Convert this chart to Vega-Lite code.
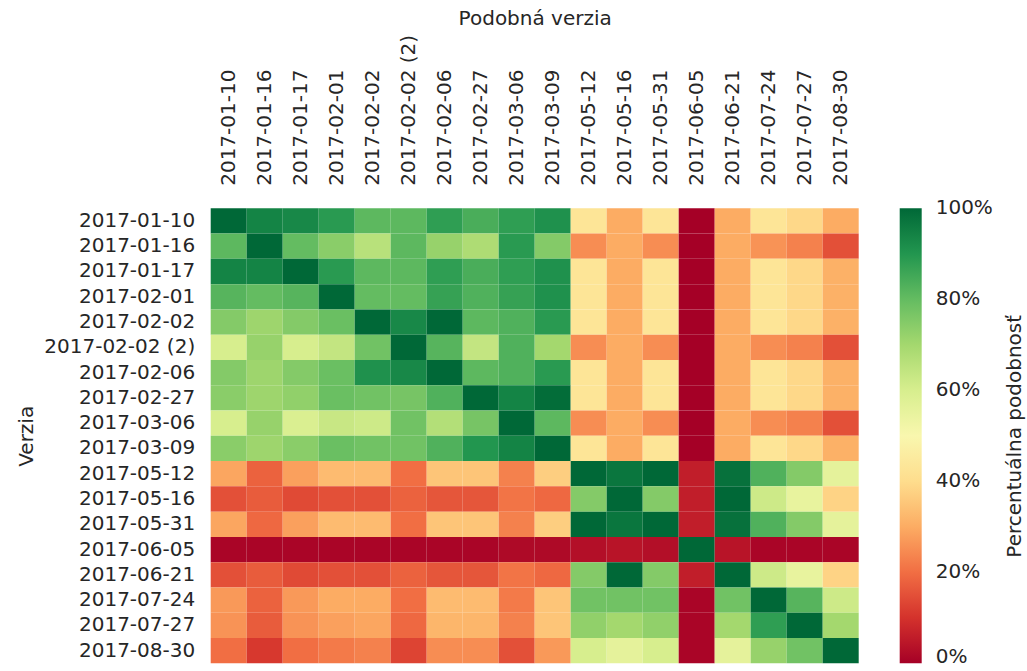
{
  "$schema": "https://vega.github.io/schema/vega-lite/v6.json",
  "width": 648,
  "height": 455,
  "autosize": "none",
  "padding": {"left": 210.7, "top": 208.3, "right": 168.3, "bottom": 7.7},
  "config": {
    "view": {"stroke": null},
    "font": "DejaVu Sans",
    "axis": {"labelFont": "DejaVu Sans", "titleFont": "DejaVu Sans", "labelColor": "#262626", "titleColor": "#262626", "titleFontWeight": "normal", "ticks": false, "domain": false, "grid": false},
    "legend": {"labelFont": "DejaVu Sans", "titleFont": "DejaVu Sans", "labelColor": "#262626", "titleColor": "#262626", "titleFontWeight": "normal"}
  },
  "datasets": {
    "cells": [
{"row":"2017-01-10","col":"2017-01-10","v":100},{"row":"2017-01-10","col":"2017-01-16","v":94},{"row":"2017-01-10","col":"2017-01-17","v":93},{"row":"2017-01-10","col":"2017-02-01","v":89},{"row":"2017-01-10","col":"2017-02-02","v":81},{"row":"2017-01-10","col":"2017-02-02 (2)","v":81},{"row":"2017-01-10","col":"2017-02-06","v":88},{"row":"2017-01-10","col":"2017-02-27","v":84},{"row":"2017-01-10","col":"2017-03-06","v":88},{"row":"2017-01-10","col":"2017-03-09","v":91},{"row":"2017-01-10","col":"2017-05-12","v":43},{"row":"2017-01-10","col":"2017-05-16","v":30},{"row":"2017-01-10","col":"2017-05-31","v":43},{"row":"2017-01-10","col":"2017-06-05","v":0},{"row":"2017-01-10","col":"2017-06-21","v":30},{"row":"2017-01-10","col":"2017-07-24","v":43},{"row":"2017-01-10","col":"2017-07-27","v":39},{"row":"2017-01-10","col":"2017-08-30","v":30},
{"row":"2017-01-16","col":"2017-01-10","v":81},{"row":"2017-01-16","col":"2017-01-16","v":100},{"row":"2017-01-16","col":"2017-01-17","v":80},{"row":"2017-01-16","col":"2017-02-01","v":74},{"row":"2017-01-16","col":"2017-02-02","v":66},{"row":"2017-01-16","col":"2017-02-02 (2)","v":81},{"row":"2017-01-16","col":"2017-02-06","v":72},{"row":"2017-01-16","col":"2017-02-27","v":68},{"row":"2017-01-16","col":"2017-03-06","v":89},{"row":"2017-01-16","col":"2017-03-09","v":75},{"row":"2017-01-16","col":"2017-05-12","v":25},{"row":"2017-01-16","col":"2017-05-16","v":30},{"row":"2017-01-16","col":"2017-05-31","v":25},{"row":"2017-01-16","col":"2017-06-05","v":0},{"row":"2017-01-16","col":"2017-06-21","v":30},{"row":"2017-01-16","col":"2017-07-24","v":26},{"row":"2017-01-16","col":"2017-07-27","v":23},{"row":"2017-01-16","col":"2017-08-30","v":15},
{"row":"2017-01-17","col":"2017-01-10","v":94},{"row":"2017-01-17","col":"2017-01-16","v":94},{"row":"2017-01-17","col":"2017-01-17","v":100},{"row":"2017-01-17","col":"2017-02-01","v":89},{"row":"2017-01-17","col":"2017-02-02","v":81},{"row":"2017-01-17","col":"2017-02-02 (2)","v":81},{"row":"2017-01-17","col":"2017-02-06","v":88},{"row":"2017-01-17","col":"2017-02-27","v":84},{"row":"2017-01-17","col":"2017-03-06","v":88},{"row":"2017-01-17","col":"2017-03-09","v":91},{"row":"2017-01-17","col":"2017-05-12","v":43},{"row":"2017-01-17","col":"2017-05-16","v":30},{"row":"2017-01-17","col":"2017-05-31","v":43},{"row":"2017-01-17","col":"2017-06-05","v":0},{"row":"2017-01-17","col":"2017-06-21","v":30},{"row":"2017-01-17","col":"2017-07-24","v":43},{"row":"2017-01-17","col":"2017-07-27","v":39},{"row":"2017-01-17","col":"2017-08-30","v":31},
{"row":"2017-02-01","col":"2017-01-10","v":82},{"row":"2017-02-01","col":"2017-01-16","v":80},{"row":"2017-02-01","col":"2017-01-17","v":82},{"row":"2017-02-01","col":"2017-02-01","v":100},{"row":"2017-02-01","col":"2017-02-02","v":80},{"row":"2017-02-01","col":"2017-02-02 (2)","v":80},{"row":"2017-02-01","col":"2017-02-06","v":87},{"row":"2017-02-01","col":"2017-02-27","v":83},{"row":"2017-02-01","col":"2017-03-06","v":87},{"row":"2017-02-01","col":"2017-03-09","v":91},{"row":"2017-02-01","col":"2017-05-12","v":43},{"row":"2017-02-01","col":"2017-05-16","v":30},{"row":"2017-02-01","col":"2017-05-31","v":43},{"row":"2017-02-01","col":"2017-06-05","v":0},{"row":"2017-02-01","col":"2017-06-21","v":30},{"row":"2017-02-01","col":"2017-07-24","v":43},{"row":"2017-02-01","col":"2017-07-27","v":39},{"row":"2017-02-01","col":"2017-08-30","v":31},
{"row":"2017-02-02","col":"2017-01-10","v":75},{"row":"2017-02-02","col":"2017-01-16","v":71},{"row":"2017-02-02","col":"2017-01-17","v":75},{"row":"2017-02-02","col":"2017-02-01","v":79},{"row":"2017-02-02","col":"2017-02-02","v":100},{"row":"2017-02-02","col":"2017-02-02 (2)","v":93},{"row":"2017-02-02","col":"2017-02-06","v":100},{"row":"2017-02-02","col":"2017-02-27","v":81},{"row":"2017-02-02","col":"2017-03-06","v":83},{"row":"2017-02-02","col":"2017-03-09","v":89},{"row":"2017-02-02","col":"2017-05-12","v":43},{"row":"2017-02-02","col":"2017-05-16","v":30},{"row":"2017-02-02","col":"2017-05-31","v":43},{"row":"2017-02-02","col":"2017-06-05","v":0},{"row":"2017-02-02","col":"2017-06-21","v":30},{"row":"2017-02-02","col":"2017-07-24","v":43},{"row":"2017-02-02","col":"2017-07-27","v":39},{"row":"2017-02-02","col":"2017-08-30","v":31},
{"row":"2017-02-02 (2)","col":"2017-01-10","v":60},{"row":"2017-02-02 (2)","col":"2017-01-16","v":72},{"row":"2017-02-02 (2)","col":"2017-01-17","v":60},{"row":"2017-02-02 (2)","col":"2017-02-01","v":64},{"row":"2017-02-02 (2)","col":"2017-02-02","v":78},{"row":"2017-02-02 (2)","col":"2017-02-02 (2)","v":100},{"row":"2017-02-02 (2)","col":"2017-02-06","v":82},{"row":"2017-02-02 (2)","col":"2017-02-27","v":64},{"row":"2017-02-02 (2)","col":"2017-03-06","v":83},{"row":"2017-02-02 (2)","col":"2017-03-09","v":70},{"row":"2017-02-02 (2)","col":"2017-05-12","v":25},{"row":"2017-02-02 (2)","col":"2017-05-16","v":30},{"row":"2017-02-02 (2)","col":"2017-05-31","v":25},{"row":"2017-02-02 (2)","col":"2017-06-05","v":0},{"row":"2017-02-02 (2)","col":"2017-06-21","v":30},{"row":"2017-02-02 (2)","col":"2017-07-24","v":25},{"row":"2017-02-02 (2)","col":"2017-07-27","v":23},{"row":"2017-02-02 (2)","col":"2017-08-30","v":15},
{"row":"2017-02-06","col":"2017-01-10","v":75},{"row":"2017-02-06","col":"2017-01-16","v":71},{"row":"2017-02-06","col":"2017-01-17","v":75},{"row":"2017-02-06","col":"2017-02-01","v":79},{"row":"2017-02-06","col":"2017-02-02","v":91},{"row":"2017-02-06","col":"2017-02-02 (2)","v":93},{"row":"2017-02-06","col":"2017-02-06","v":100},{"row":"2017-02-06","col":"2017-02-27","v":81},{"row":"2017-02-06","col":"2017-03-06","v":83},{"row":"2017-02-06","col":"2017-03-09","v":89},{"row":"2017-02-06","col":"2017-05-12","v":43},{"row":"2017-02-06","col":"2017-05-16","v":30},{"row":"2017-02-06","col":"2017-05-31","v":43},{"row":"2017-02-06","col":"2017-06-05","v":0},{"row":"2017-02-06","col":"2017-06-21","v":30},{"row":"2017-02-06","col":"2017-07-24","v":43},{"row":"2017-02-06","col":"2017-07-27","v":39},{"row":"2017-02-06","col":"2017-08-30","v":31},
{"row":"2017-02-27","col":"2017-01-10","v":74},{"row":"2017-02-27","col":"2017-01-16","v":71},{"row":"2017-02-27","col":"2017-01-17","v":73},{"row":"2017-02-27","col":"2017-02-01","v":79},{"row":"2017-02-27","col":"2017-02-02","v":78},{"row":"2017-02-27","col":"2017-02-02 (2)","v":77},{"row":"2017-02-27","col":"2017-02-06","v":83},{"row":"2017-02-27","col":"2017-02-27","v":100},{"row":"2017-02-27","col":"2017-03-06","v":94},{"row":"2017-02-27","col":"2017-03-09","v":99},{"row":"2017-02-27","col":"2017-05-12","v":43},{"row":"2017-02-27","col":"2017-05-16","v":30},{"row":"2017-02-27","col":"2017-05-31","v":43},{"row":"2017-02-27","col":"2017-06-05","v":0},{"row":"2017-02-27","col":"2017-06-21","v":30},{"row":"2017-02-27","col":"2017-07-24","v":43},{"row":"2017-02-27","col":"2017-07-27","v":39},{"row":"2017-02-27","col":"2017-08-30","v":31},
{"row":"2017-03-06","col":"2017-01-10","v":60},{"row":"2017-03-06","col":"2017-01-16","v":72},{"row":"2017-03-06","col":"2017-01-17","v":59},{"row":"2017-03-06","col":"2017-02-01","v":63},{"row":"2017-03-06","col":"2017-02-02","v":62},{"row":"2017-03-06","col":"2017-02-02 (2)","v":78},{"row":"2017-03-06","col":"2017-02-06","v":67},{"row":"2017-03-06","col":"2017-02-27","v":77},{"row":"2017-03-06","col":"2017-03-06","v":100},{"row":"2017-03-06","col":"2017-03-09","v":81},{"row":"2017-03-06","col":"2017-05-12","v":25},{"row":"2017-03-06","col":"2017-05-16","v":30},{"row":"2017-03-06","col":"2017-05-31","v":25},{"row":"2017-03-06","col":"2017-06-05","v":0},{"row":"2017-03-06","col":"2017-06-21","v":30},{"row":"2017-03-06","col":"2017-07-24","v":25},{"row":"2017-03-06","col":"2017-07-27","v":23},{"row":"2017-03-06","col":"2017-08-30","v":15},
{"row":"2017-03-09","col":"2017-01-10","v":74},{"row":"2017-03-09","col":"2017-01-16","v":71},{"row":"2017-03-09","col":"2017-01-17","v":74},{"row":"2017-03-09","col":"2017-02-01","v":79},{"row":"2017-03-09","col":"2017-02-02","v":78},{"row":"2017-03-09","col":"2017-02-02 (2)","v":78},{"row":"2017-03-09","col":"2017-02-06","v":83},{"row":"2017-03-09","col":"2017-02-27","v":90},{"row":"2017-03-09","col":"2017-03-06","v":94},{"row":"2017-03-09","col":"2017-03-09","v":100},{"row":"2017-03-09","col":"2017-05-12","v":43},{"row":"2017-03-09","col":"2017-05-16","v":30},{"row":"2017-03-09","col":"2017-05-31","v":43},{"row":"2017-03-09","col":"2017-06-05","v":0},{"row":"2017-03-09","col":"2017-06-21","v":30},{"row":"2017-03-09","col":"2017-07-24","v":43},{"row":"2017-03-09","col":"2017-07-27","v":39},{"row":"2017-03-09","col":"2017-08-30","v":31},
{"row":"2017-05-12","col":"2017-01-10","v":29},{"row":"2017-05-12","col":"2017-01-16","v":18},{"row":"2017-05-12","col":"2017-01-17","v":28},{"row":"2017-05-12","col":"2017-02-01","v":33},{"row":"2017-05-12","col":"2017-02-02","v":33},{"row":"2017-05-12","col":"2017-02-02 (2)","v":20},{"row":"2017-05-12","col":"2017-02-06","v":35},{"row":"2017-05-12","col":"2017-02-27","v":35},{"row":"2017-05-12","col":"2017-03-06","v":23},{"row":"2017-05-12","col":"2017-03-09","v":37},{"row":"2017-05-12","col":"2017-05-12","v":100},{"row":"2017-05-12","col":"2017-05-16","v":97},{"row":"2017-05-12","col":"2017-05-31","v":100},{"row":"2017-05-12","col":"2017-06-05","v":6},{"row":"2017-05-12","col":"2017-06-21","v":98},{"row":"2017-05-12","col":"2017-07-24","v":83},{"row":"2017-05-12","col":"2017-07-27","v":75},{"row":"2017-05-12","col":"2017-08-30","v":56},
{"row":"2017-05-16","col":"2017-01-10","v":15},{"row":"2017-05-16","col":"2017-01-16","v":17},{"row":"2017-05-16","col":"2017-01-17","v":14},{"row":"2017-05-16","col":"2017-02-01","v":15},{"row":"2017-05-16","col":"2017-02-02","v":15},{"row":"2017-05-16","col":"2017-02-02 (2)","v":18},{"row":"2017-05-16","col":"2017-02-06","v":16},{"row":"2017-05-16","col":"2017-02-27","v":16},{"row":"2017-05-16","col":"2017-03-06","v":21},{"row":"2017-05-16","col":"2017-03-09","v":19},{"row":"2017-05-16","col":"2017-05-12","v":75},{"row":"2017-05-16","col":"2017-05-16","v":100},{"row":"2017-05-16","col":"2017-05-31","v":75},{"row":"2017-05-16","col":"2017-06-05","v":6},{"row":"2017-05-16","col":"2017-06-21","v":100},{"row":"2017-05-16","col":"2017-07-24","v":62},{"row":"2017-05-16","col":"2017-07-27","v":55},{"row":"2017-05-16","col":"2017-08-30","v":38},
{"row":"2017-05-31","col":"2017-01-10","v":29},{"row":"2017-05-31","col":"2017-01-16","v":19},{"row":"2017-05-31","col":"2017-01-17","v":28},{"row":"2017-05-31","col":"2017-02-01","v":33},{"row":"2017-05-31","col":"2017-02-02","v":33},{"row":"2017-05-31","col":"2017-02-02 (2)","v":20},{"row":"2017-05-31","col":"2017-02-06","v":35},{"row":"2017-05-31","col":"2017-02-27","v":35},{"row":"2017-05-31","col":"2017-03-06","v":23},{"row":"2017-05-31","col":"2017-03-09","v":37},{"row":"2017-05-31","col":"2017-05-12","v":100},{"row":"2017-05-31","col":"2017-05-16","v":97},{"row":"2017-05-31","col":"2017-05-31","v":100},{"row":"2017-05-31","col":"2017-06-05","v":6},{"row":"2017-05-31","col":"2017-06-21","v":98},{"row":"2017-05-31","col":"2017-07-24","v":83},{"row":"2017-05-31","col":"2017-07-27","v":75},{"row":"2017-05-31","col":"2017-08-30","v":56},
{"row":"2017-06-05","col":"2017-01-10","v":1},{"row":"2017-06-05","col":"2017-01-16","v":1},{"row":"2017-06-05","col":"2017-01-17","v":1},{"row":"2017-06-05","col":"2017-02-01","v":1},{"row":"2017-06-05","col":"2017-02-02","v":1},{"row":"2017-06-05","col":"2017-02-02 (2)","v":1},{"row":"2017-06-05","col":"2017-02-06","v":1},{"row":"2017-06-05","col":"2017-02-27","v":1},{"row":"2017-06-05","col":"2017-03-06","v":2},{"row":"2017-06-05","col":"2017-03-09","v":2},{"row":"2017-06-05","col":"2017-05-12","v":3},{"row":"2017-06-05","col":"2017-05-16","v":4},{"row":"2017-06-05","col":"2017-05-31","v":3},{"row":"2017-06-05","col":"2017-06-05","v":100},{"row":"2017-06-05","col":"2017-06-21","v":4},{"row":"2017-06-05","col":"2017-07-24","v":1},{"row":"2017-06-05","col":"2017-07-27","v":1},{"row":"2017-06-05","col":"2017-08-30","v":1},
{"row":"2017-06-21","col":"2017-01-10","v":15},{"row":"2017-06-21","col":"2017-01-16","v":17},{"row":"2017-06-21","col":"2017-01-17","v":14},{"row":"2017-06-21","col":"2017-02-01","v":15},{"row":"2017-06-21","col":"2017-02-02","v":15},{"row":"2017-06-21","col":"2017-02-02 (2)","v":18},{"row":"2017-06-21","col":"2017-02-06","v":16},{"row":"2017-06-21","col":"2017-02-27","v":16},{"row":"2017-06-21","col":"2017-03-06","v":21},{"row":"2017-06-21","col":"2017-03-09","v":19},{"row":"2017-06-21","col":"2017-05-12","v":75},{"row":"2017-06-21","col":"2017-05-16","v":100},{"row":"2017-06-21","col":"2017-05-31","v":75},{"row":"2017-06-21","col":"2017-06-05","v":6},{"row":"2017-06-21","col":"2017-06-21","v":100},{"row":"2017-06-21","col":"2017-07-24","v":62},{"row":"2017-06-21","col":"2017-07-27","v":55},{"row":"2017-06-21","col":"2017-08-30","v":38},
{"row":"2017-07-24","col":"2017-01-10","v":27},{"row":"2017-07-24","col":"2017-01-16","v":18},{"row":"2017-07-24","col":"2017-01-17","v":27},{"row":"2017-07-24","col":"2017-02-01","v":30},{"row":"2017-07-24","col":"2017-02-02","v":30},{"row":"2017-07-24","col":"2017-02-02 (2)","v":20},{"row":"2017-07-24","col":"2017-02-06","v":33},{"row":"2017-07-24","col":"2017-02-27","v":33},{"row":"2017-07-24","col":"2017-03-06","v":22},{"row":"2017-07-24","col":"2017-03-09","v":35},{"row":"2017-07-24","col":"2017-05-12","v":78},{"row":"2017-07-24","col":"2017-05-16","v":78},{"row":"2017-07-24","col":"2017-05-31","v":78},{"row":"2017-07-24","col":"2017-06-05","v":1},{"row":"2017-07-24","col":"2017-06-21","v":78},{"row":"2017-07-24","col":"2017-07-24","v":100},{"row":"2017-07-24","col":"2017-07-27","v":82},{"row":"2017-07-24","col":"2017-08-30","v":62},
{"row":"2017-07-27","col":"2017-01-10","v":26},{"row":"2017-07-27","col":"2017-01-16","v":17},{"row":"2017-07-27","col":"2017-01-17","v":26},{"row":"2017-07-27","col":"2017-02-01","v":28},{"row":"2017-07-27","col":"2017-02-02","v":29},{"row":"2017-07-27","col":"2017-02-02 (2)","v":19},{"row":"2017-07-27","col":"2017-02-06","v":32},{"row":"2017-07-27","col":"2017-02-27","v":32},{"row":"2017-07-27","col":"2017-03-06","v":23},{"row":"2017-07-27","col":"2017-03-09","v":35},{"row":"2017-07-27","col":"2017-05-12","v":73},{"row":"2017-07-27","col":"2017-05-16","v":70},{"row":"2017-07-27","col":"2017-05-31","v":73},{"row":"2017-07-27","col":"2017-06-05","v":1},{"row":"2017-07-27","col":"2017-06-21","v":70},{"row":"2017-07-27","col":"2017-07-24","v":88},{"row":"2017-07-27","col":"2017-07-27","v":100},{"row":"2017-07-27","col":"2017-08-30","v":70},
{"row":"2017-08-30","col":"2017-01-10","v":20},{"row":"2017-08-30","col":"2017-01-16","v":11},{"row":"2017-08-30","col":"2017-01-17","v":20},{"row":"2017-08-30","col":"2017-02-01","v":22},{"row":"2017-08-30","col":"2017-02-02","v":23},{"row":"2017-08-30","col":"2017-02-02 (2)","v":13},{"row":"2017-08-30","col":"2017-02-06","v":25},{"row":"2017-08-30","col":"2017-02-27","v":25},{"row":"2017-08-30","col":"2017-03-06","v":15},{"row":"2017-08-30","col":"2017-03-09","v":27},{"row":"2017-08-30","col":"2017-05-12","v":60},{"row":"2017-08-30","col":"2017-05-16","v":56},{"row":"2017-08-30","col":"2017-05-31","v":60},{"row":"2017-08-30","col":"2017-06-05","v":1},{"row":"2017-08-30","col":"2017-06-21","v":56},{"row":"2017-08-30","col":"2017-07-24","v":72},{"row":"2017-08-30","col":"2017-07-27","v":78},{"row":"2017-08-30","col":"2017-08-30","v":100}
    ]
  },
  "data": {"name": "cells"},
  "mark": {"type": "rect"},
  "encoding": {
    "x": {
      "field": "col", "type": "nominal",
      "sort": ["2017-01-10","2017-01-16","2017-01-17","2017-02-01","2017-02-02","2017-02-02 (2)","2017-02-06","2017-02-27","2017-03-06","2017-03-09","2017-05-12","2017-05-16","2017-05-31","2017-06-05","2017-06-21","2017-07-24","2017-07-27","2017-08-30"],
      "scale": {"paddingInner": 0, "paddingOuter": 0},
      "axis": {"orient": "top", "title": "Podobná verzia", "labelAngle": -90, "labelFontSize": 20, "titleFontSize": 20, "labelPadding": 23, "titlePadding": 6}
    },
    "y": {
      "field": "row", "type": "nominal",
      "sort": ["2017-01-10","2017-01-16","2017-01-17","2017-02-01","2017-02-02","2017-02-02 (2)","2017-02-06","2017-02-27","2017-03-06","2017-03-09","2017-05-12","2017-05-16","2017-05-31","2017-06-05","2017-06-21","2017-07-24","2017-07-27","2017-08-30"],
      "scale": {"paddingInner": 0, "paddingOuter": 0},
      "axis": {"title": "Verzia", "labelFontSize": 20, "titleFontSize": 20, "labelPadding": 16, "titlePadding": 7}
    },
    "color": {
      "field": "v", "type": "quantitative",
      "scale": {"scheme": "redyellowgreen", "domain": [0, 100]},
      "legend": {
        "title": "Percentuálna podobnosť",
        "orient": "right", "offset": 41,
        "gradientLength": 455, "gradientThickness": 22, "gradientStrokeWidth": 0,
        "values": [0, 20, 40, 60, 80, 100],
        "labelExpr": "datum.value + '%'",
        "labelFontSize": 20, "labelOffset": 14, "labelOverlap": false,
        "titleFontSize": 20, "titleOrient": "right", "titleAnchor": "middle", "titlePadding": 12, "titleLimit": 1000,
        "encoding": {
          "title": {"angle": {"value": -90}, "baseline": {"value": "top"}},
          "labels": {"baseline": {"condition": {"test": "datum.value <= 0", "value": "alphabetic"}, "value": "middle"}}
        }
      }
    }
  }
}
